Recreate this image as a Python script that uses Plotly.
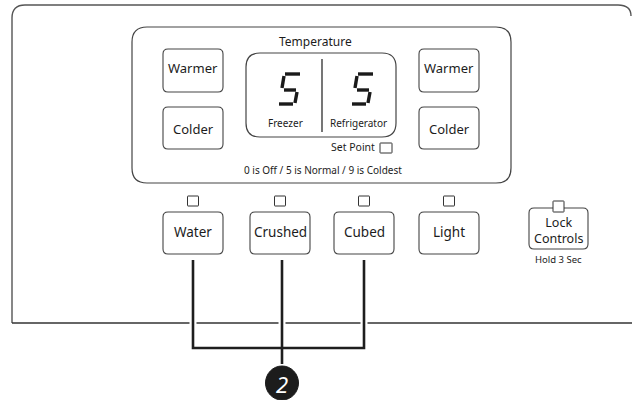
import plotly.graph_objects as go

# ---- content (text) ----
temp_title = "Temperature"
temp_buttons = ["Warmer", "Colder", "Warmer", "Colder"]
zone_labels = ["Freezer", "Refrigerator"]
zone_settings = ["5", "5"]
set_point_label = "Set Point"
scale_note = "0 is Off / 5 is Normal / 9 is Coldest"
dispenser_buttons = ["Water", "Crushed", "Cubed", "Light"]
lock_label = ["Lock", "Controls"]
lock_note = "Hold 3 Sec"
callout_number = "2"

# ---- layout geometry (pixels) ----
W, H = 632, 400
temp_btn_boxes = [(163, 49, 223, 92), (163, 107, 223, 149), (419, 49, 479, 92), (419, 107, 479, 149)]
temp_btn_text_y = [68, 129, 68, 129]
disp_btn_x = [(163, 223), (250, 310), (334, 394), (419, 479)]
disp_btn_y = (212, 254)
digit_origin_x = [278, 351]
digit_origin_y = 73
zone_label_x = [285, 358]
bracket_x = [193, 282, 364]

INK = "#1c1c1c"
FONT = "Noto Sans"


def rrect(x0, y0, x1, y1, r):
    return (f"M{x0+r},{y0} L{x1-r},{y0} Q{x1},{y0} {x1},{y0+r} L{x1},{y1-r} "
            f"Q{x1},{y1} {x1-r},{y1} L{x0+r},{y1} Q{x0},{y1} {x0},{y1-r} "
            f"L{x0},{y0+r} Q{x0},{y0} {x0+r},{y0} Z")


shapes = []
ann = []


def path(p, color=INK, width=1.2, fill=None):
    d = dict(type="path", path=p, xref="x", yref="y", line=dict(color=color, width=width))
    if fill:
        d["fillcolor"] = fill
    shapes.append(d)


def text(x, y, s, size, color=INK, family=FONT):
    ann.append(dict(x=x, y=y, xref="x", yref="y", text=s, showarrow=False,
                    xanchor="center", yanchor="middle",
                    font=dict(size=size, color=color, family=family)))


# outer frame
path("M12,323 L12,18 Q12,5 25,5 L618,5 Q631,5 631,16", color="#555", width=1.4)
path("M12,323 L632,323", color="#333", width=1.4)

# temperature panel
path(rrect(132, 27, 511, 183, 15), color="#444", width=1.2)
text(315, 41, temp_title, 12)
for (x0, y0, x1, y1), lab, ty in zip(temp_btn_boxes, temp_buttons, temp_btn_text_y):
    path(rrect(x0, y0, x1, y1, 5), color="#444", width=1.1)
    text((x0 + x1) / 2, ty, lab, 13)

# display window
path(rrect(246, 53, 396, 137, 14), color="#444", width=1.2)
path("M322,59 L322,132", color=INK, width=1.2)

# seven-segment "5" digits
seg5 = [((7, 1), (22, 1)), ((6, 3), (4, 15)), ((6, 17), (18, 17)),
        ((19, 19), (17, 30)), ((1, 31), (15, 31))]
for ox, val in zip(digit_origin_x, zone_settings):
    if val == "5":
        for (a, b) in seg5:
            path(f"M{ox+a[0]},{digit_origin_y+a[1]} L{ox+b[0]},{digit_origin_y+b[1]}",
                 color="#1a1a1a", width=3.4)
for x, lab in zip(zone_label_x, zone_labels):
    text(x, 123, lab, 10)

text(353, 147, set_point_label, 10.5)
path(rrect(380, 143, 392, 153, 0.5), color="#333", width=1)
text(323, 170, scale_note, 10)

# dispenser buttons with indicator squares
for (x0, x1), lab in zip(disp_btn_x, dispenser_buttons):
    cx = (x0 + x1) / 2
    path(rrect(cx - 5.5, 196, cx + 5.5, 206, 0.5), color="#333", width=1)
    path(rrect(x0, disp_btn_y[0], x1, disp_btn_y[1], 5), color="#444", width=1.1)
    text(cx, 232, lab, 13.5)

# lock controls
path(rrect(529, 208, 588, 249, 5), color="#444", width=1.1)
path(rrect(553, 201, 564, 212, 0.5), color="#333", width=1, fill="white")
text(558, 230, "<br>".join(lock_label), 12.5)
text(558, 259, lock_note, 9.5)

# bracket callout
for bx in bracket_x:
    path(f"M{bx},318 L{bx},328", color="white", width=7)
path(f"M{bracket_x[0]},260 L{bracket_x[0]},348 L{bracket_x[2]},348 L{bracket_x[2]},260",
     color="#1e1e1e", width=2.6)
path(f"M{bracket_x[1]},260 L{bracket_x[1]},364", color="#1e1e1e", width=2.6)
shapes.append(dict(type="circle", xref="x", yref="y", x0=265.5, y0=366, x1=298.5, y1=400,
                   fillcolor="#1c1c1c", line=dict(color="#1c1c1c", width=1)))
text(282, 384, f"<i>{callout_number}</i>", 22, color="white")

fig = go.Figure()
fig.update_layout(
    width=W, height=H, margin=dict(l=0, r=0, t=0, b=0),
    paper_bgcolor="white", plot_bgcolor="white",
    xaxis=dict(range=[0, W], visible=False, fixedrange=True),
    yaxis=dict(range=[H, 0], visible=False, fixedrange=True),
    shapes=shapes, annotations=ann, showlegend=False,
)
fig.write_html("out.html", config={"displayModeBar": False},
               post_script="document.body.style.margin='0px';document.body.style.overflow='hidden';")
